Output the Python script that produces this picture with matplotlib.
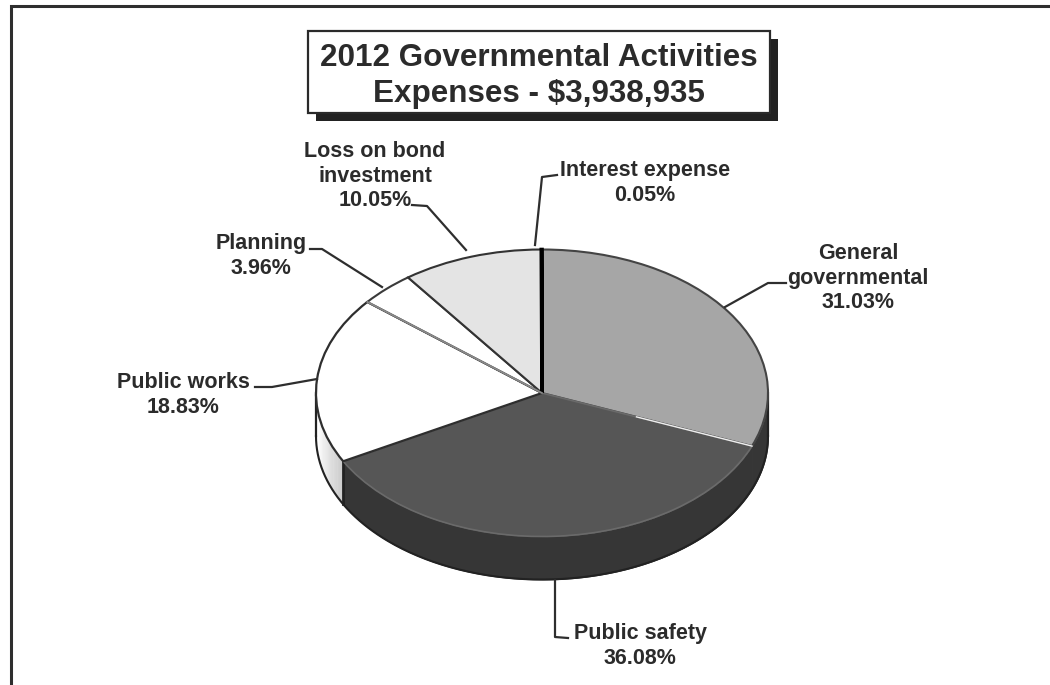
import numpy as np
import matplotlib
matplotlib.use("Agg")
import matplotlib.pyplot as plt
from matplotlib.patches import Rectangle

# Expense shares in percent, clockwise from 12 o'clock
categories = ["General\ngovernmental", "Public safety", "Public works",
              "Planning", "Loss on bond\ninvestment", "Interest expense"]
shares = [31.03, 36.08, 18.83, 3.96, 10.05, 0.05]
title_lines = "2012 Governmental Activities\nExpenses - $3,938,935"

top_colors = ["#a6a6a6", "#565656", "#ffffff", "#ffffff", "#e4e4e4", "#111111"]
edge_colors = ["#444444", "#6a6a6a", "#2e2e2e", "#3a3a3a", "#333333", "#000000"]
edge_widths = [1.5, 1.2, 1.6, 1.5, 1.5, 2.6]
wall_dark = "#363636"

# Label centres and leader paths, in pixels
label_pos = [(858, 278), (640, 646), (183, 395), (261, 256), (375, 176), (645, 183)]
leaders = [
    [(786, 283), (768, 283), (725, 307)],
    [(555, 580), (555, 637), (568, 638)],
    [(255, 387), (272, 387), (317, 379)],
    [(310, 249), (322, 249), (382, 287)],
    [(412, 205), (427, 206), (466, 250)],
    [(557, 175), (542, 177), (535, 245)],
]

W, H = 1050, 685
cx, cy = 542, 393
rx, ry = 226, 143.5
depth = 43 / ry

plt.rcParams["font.family"] = ["Liberation Sans", "DejaVu Sans"]
fig = plt.figure(figsize=(W / 100, H / 100), dpi=100, facecolor="white")

# Pie axes: unit circle squashed to an ellipse, squares not kept equal
ax = fig.add_axes([0, 0, 1, 1])
ax.pie(shares, startangle=90, counterclock=False, radius=1, colors=top_colors,
       wedgeprops={"zorder": 3})
for wedge, ec, lw in zip(ax.patches, edge_colors, edge_widths):
    wedge.set_edgecolor(ec)
    wedge.set_linewidth(lw)
ax.set_aspect("auto")
ax.set_xlim(-cx / rx, (W - cx) / rx)
ax.set_ylim(-(H - cy) / ry, cy / ry)
ax.axis("off")

edges = np.cumsum([0] + shares) * 3.6

# Walls below the front half of the rim
for i in range(2):
    th = np.radians(np.linspace(max(edges[i], 90), min(edges[i + 1], 270), 120))
    ax.fill_between(np.sin(th), np.cos(th), np.cos(th) - depth,
                    color=wall_dark, lw=0.6, zorder=1)

# Public works wall fades from grey to white going left
steps = np.linspace(edges[2], 262, 25)
for a, b in zip(steps[:-1], steps[1:]):
    grey = np.interp(a, [edges[2], 262], [0.80, 1.0])
    th = np.radians(np.linspace(a, b + 0.3, 6))
    ax.fill_between(np.sin(th), np.cos(th), np.cos(th) - depth, color=(grey, grey, grey), lw=0, zorder=1)

# Outline around the lower rim and the cut edge of the dark wall
th = np.radians(np.linspace(90, 270, 300))
ax.plot(np.sin(th), np.cos(th) - depth, color="#222222", lw=1.5, zorder=2)
ax.plot([-1, -1], [0, -depth], color="#222222", lw=1.6, zorder=2)
ax.plot([1, 1], [0, -depth], color="#222222", lw=1.6, zorder=2)
th = np.radians(edges[2])
ax.plot([np.sin(th)] * 2, [np.cos(th), np.cos(th) - depth], color="#222222", lw=2.0, zorder=2)

# Pale highlight on the edge between the two largest slices
th = np.radians(edges[1])
ax.plot([0.45 * np.sin(th), np.sin(th)], [0.45 * np.cos(th), np.cos(th)],
        color="#eeeeee", lw=1.0, zorder=4)

# Divider between public works and planning reads lighter
th = np.radians(edges[3])
ax.plot([0, np.sin(th)], [0, np.cos(th)], color="#8a8a8a", lw=1.3, zorder=4)

# Overlay in pixel coordinates for frame, title and labels
ov = fig.add_axes([0, 0, 1, 1], facecolor="none")
ov.set_xlim(0, W)
ov.set_ylim(H, 0)
ov.axis("off")

ov.plot([11, 11, W], [H, 6, 6], color="#2e2e2e", lw=2.2, solid_joinstyle="miter")

ov.add_patch(Rectangle((316, 39), 462, 82, facecolor="#222222", edgecolor="none"))
ov.add_patch(Rectangle((308, 31), 462, 82, facecolor="white", edgecolor="#2a2a2a", lw=1.6))
ov.text(539, 76, title_lines, ha="center", va="center", ma="center", fontsize=22.6,
        fontweight="bold", color="#2b2b2b", linespacing=1.24)

for name, share, (x, y), path in zip(categories, shares, label_pos, leaders):
    ov.text(x, y, f"{name}\n{share:.2f}%", ha="center", va="center", ma="center",
            fontsize=15.5, fontweight="bold", color="#2b2b2b", linespacing=1.24)
    xs, ys = zip(*path)
    ov.plot(xs, ys, color="#2e2e2e", lw=1.6)

fig.savefig("out.png", dpi=100)
